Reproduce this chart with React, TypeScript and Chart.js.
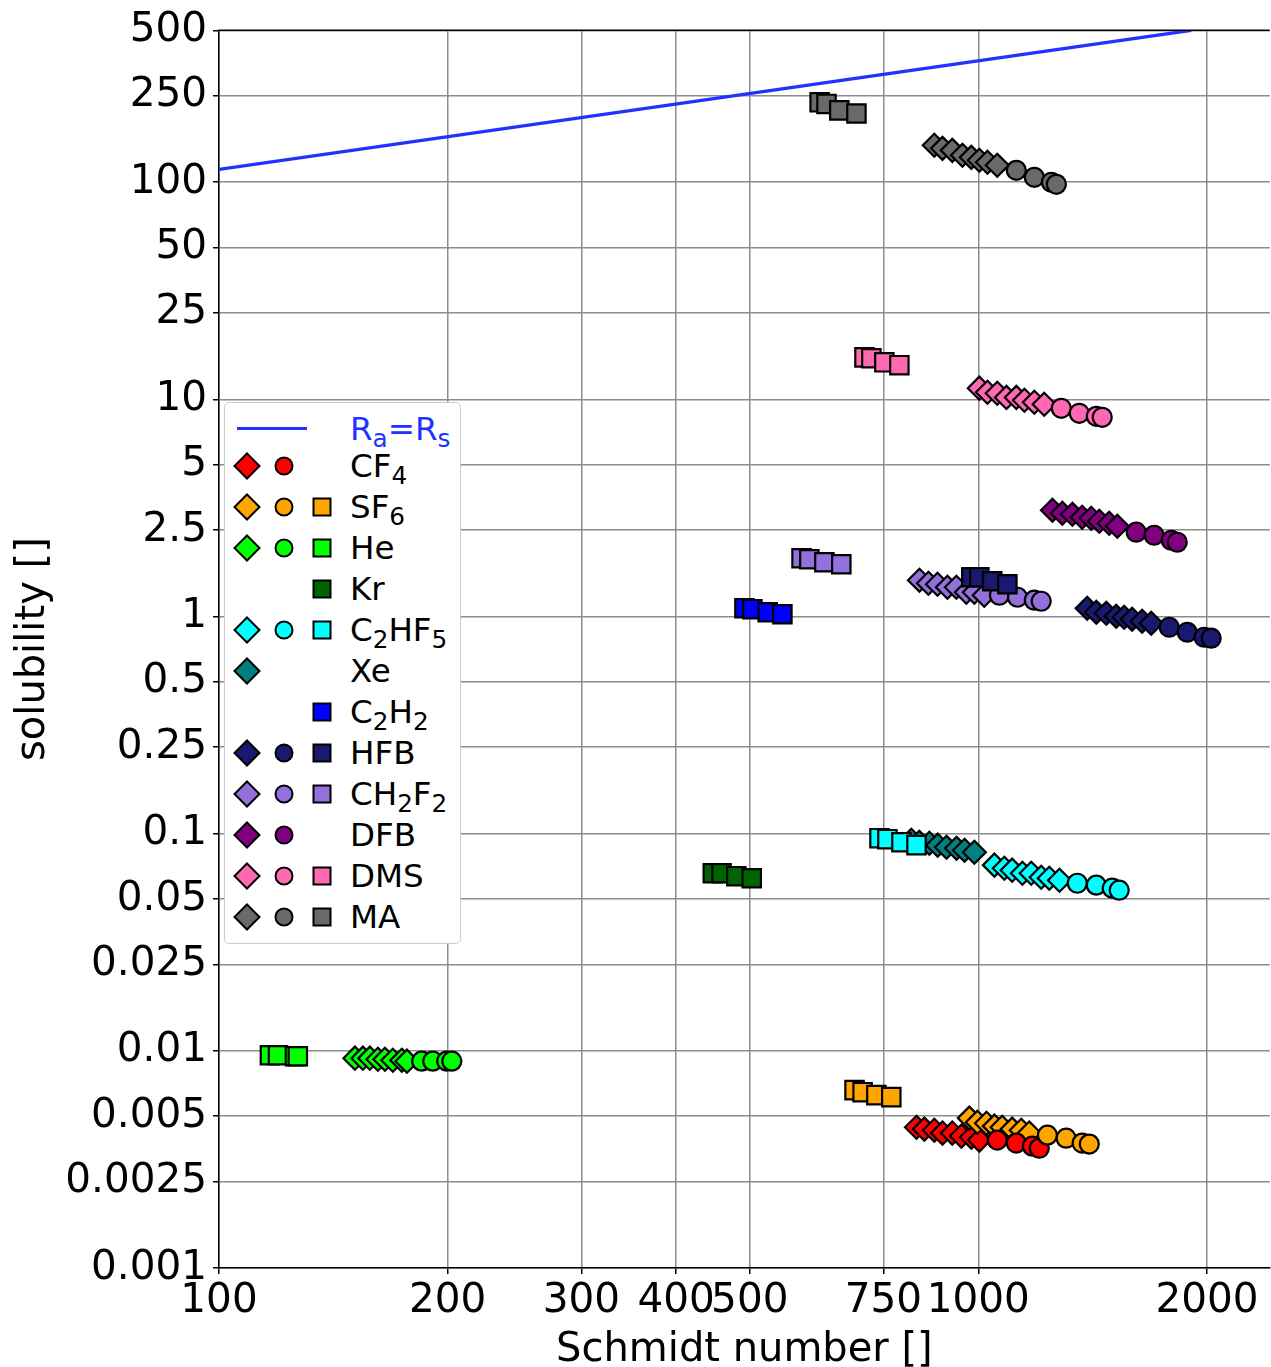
import React, { useEffect, useRef } from 'react';
import { Chart, registerables } from 'chart.js';

Chart.register(...registerables);
Chart.defaults.font.family = "'DejaVu Sans', sans-serif";

type Pt = [number, number];

// ---- axis ticks ----
const X_TICKS = [100, 200, 300, 400, 500, 750, 1000, 2000];
const Y_TICKS = [0.001, 0.0025, 0.005, 0.01, 0.025, 0.05, 0.1, 0.25, 0.5, 1, 2.5, 5, 10, 25, 50, 100, 250, 500];

// ---- Ra = Rs line ----
const RA_RS_LINE: Pt[] = [[100, 114.5], [1907, 500]];

// ---- data (Schmidt number, solubility) ----
const CF4_D: Pt[] = [[829, 0.00445], [849, 0.00436], [875, 0.00431], [897, 0.00418], [924, 0.00418], [950, 0.00405], [979, 0.0040], [1003, 0.00388]];
const CF4_C: Pt[] = [[1059, 0.00388], [1122, 0.00376], [1178, 0.00364], [1203, 0.00356]];

const SF6_D: Pt[] = [[973, 0.0049], [997, 0.00469], [1025, 0.00464], [1050, 0.0045], [1075, 0.00445], [1108, 0.00436], [1139, 0.00431], [1167, 0.00418]];
const SF6_C: Pt[] = [[1233, 0.00409], [1305, 0.00396], [1370, 0.00376], [1400, 0.00372]];
const SF6_S: Pt[] = [[687, 0.00659], [704, 0.00645], [734, 0.00625], [768, 0.00612]];

const HE_D: Pt[] = [[151, 0.00925], [154.7, 0.00925], [158, 0.00925], [161.9, 0.00915], [165.4, 0.00915], [169.4, 0.00905], [174.1, 0.00905], [176.8, 0.00896]];
const HE_C: Pt[] = [[184.9, 0.00896], [191.2, 0.00896], [199.5, 0.00896], [202.6, 0.00896]];
const HE_S: Pt[] = [[116.7, 0.00954], [119.6, 0.00954], [125.9, 0.00944], [127, 0.00944]];

const KR_S: Pt[] = [[447, 0.0657], [459, 0.0657], [480, 0.0637], [503, 0.0623]];

const C2HF5_D: Pt[] = [[1050, 0.0716], [1082, 0.0693], [1108, 0.0679], [1143, 0.0657], [1174, 0.0657], [1210, 0.063], [1240, 0.0623], [1279, 0.061]];
const C2HF5_C: Pt[] = [[1350, 0.0591], [1430, 0.0579], [1501, 0.0561], [1533, 0.0549]];
const C2HF5_S: Pt[] = [[741, 0.0953], [759, 0.0943], [792, 0.0913], [829, 0.0885]];

const XE_D: Pt[] = [[816, 0.0933], [836, 0.0913], [862, 0.0903], [884, 0.0885], [908, 0.0866], [936, 0.0857], [959, 0.0839], [988, 0.0821]];

const C2H2_S: Pt[] = [[492, 1.091], [504, 1.08], [528, 1.046], [552, 1.024]];

const HFB_D: Pt[] = [[1391, 1.091], [1430, 1.046], [1474, 1.035], [1519, 1.002], [1556, 0.992], [1594, 0.971], [1643, 0.951], [1689, 0.931]];
const HFB_C: Pt[] = [[1784, 0.892], [1884, 0.846], [1983, 0.802], [2026, 0.794]];
const HFB_S: Pt[] = [[979, 1.515], [1003, 1.515], [1043, 1.453], [1092, 1.407]];

const CH2F2_D: Pt[] = [[836.5, 1.468], [859.5, 1.422], [883.5, 1.407], [910.5, 1.363], [935.6, 1.363], [964.3, 1.293], [988, 1.293], [1018, 1.252]];
const CH2F2_C: Pt[] = [[1066, 1.252], [1126, 1.226], [1185, 1.188], [1210, 1.175]];
const CH2F2_S: Pt[] = [[585, 1.854], [599, 1.834], [627, 1.777], [660, 1.739]];

const DFB_D: Pt[] = [[1252, 3.083], [1290, 2.987], [1330, 2.955], [1370, 2.862], [1408, 2.832], [1443, 2.744], [1487, 2.687], [1524, 2.603]];
const DFB_C: Pt[] = [[1614, 2.443], [1704, 2.365], [1795, 2.244], [1828, 2.196]];

const DMS_D: Pt[] = [[1003, 11.25], [1028, 10.77], [1059, 10.66], [1089, 10.2], [1122, 10.2], [1150, 9.9], [1185, 9.69], [1221, 9.48]];
const DMS_C: Pt[] = [[1286, 9.09], [1358, 8.62], [1430, 8.35], [1456, 8.26]];
const DMS_S: Pt[] = [[708, 15.6], [723, 15.45], [752, 14.8], [787, 14.35]];

const MA_D: Pt[] = [[875, 147.7], [897, 143], [924, 140], [953, 133], [979, 130], [1003, 126], [1028, 123.4], [1059, 119.5]];
const MA_C: Pt[] = [[1122, 113.3], [1185, 105.2], [1248, 99.8], [1267, 97.7]];
const MA_S: Pt[] = [[618, 233], [631, 229], [656, 214], [691, 207]];

interface Gas { label: string; color: string; diamonds: Pt[] | null; circles: Pt[] | null; squares: Pt[] | null; }

const GASES: Gas[] = [
  { label: 'CF_4', color: '#ff0000', diamonds: CF4_D, circles: CF4_C, squares: null },
  { label: 'SF_6', color: '#ffa500', diamonds: SF6_D, circles: SF6_C, squares: SF6_S },
  { label: 'He', color: '#00ff00', diamonds: HE_D, circles: HE_C, squares: HE_S },
  { label: 'Kr', color: '#006400', diamonds: null, circles: null, squares: KR_S },
  { label: 'C_2HF_5', color: '#00ffff', diamonds: C2HF5_D, circles: C2HF5_C, squares: C2HF5_S },
  { label: 'Xe', color: '#008080', diamonds: XE_D, circles: null, squares: null },
  { label: 'C_2H_2', color: '#0000ff', diamonds: null, circles: null, squares: C2H2_S },
  { label: 'HFB', color: '#191970', diamonds: HFB_D, circles: HFB_C, squares: HFB_S },
  { label: 'CH_2F_2', color: '#9370db', diamonds: CH2F2_D, circles: CH2F2_C, squares: CH2F2_S },
  { label: 'DFB', color: '#800080', diamonds: DFB_D, circles: DFB_C, squares: null },
  { label: 'DMS', color: '#ff69b4', diamonds: DMS_D, circles: DMS_C, squares: DMS_S },
  { label: 'MA', color: '#696969', diamonds: MA_D, circles: MA_C, squares: MA_S },
];

const LINE_COLOR = '#1f33ff';
const W = 1271;
const H = 1367;
const TARGET_RIGHT = 1270;

const topSpine = {
  id: 'topSpine',
  afterDraw(chart: any) {
    const { ctx, chartArea } = chart;
    ctx.save();
    ctx.strokeStyle = '#000';
    ctx.lineWidth = 1.5;
    ctx.beginPath();
    ctx.moveTo(chartArea.left - 0.75, chartArea.top);
    ctx.lineTo(chartArea.right, chartArea.top);
    ctx.stroke();
    ctx.restore();
  },
};

function Sub({ children }: { children: any }) {
  return <span style={{ fontSize: '0.76em', position: 'relative', top: '0.3em' }}>{children}</span>;
}

function renderLabel(label: string) {
  const parts = label.split(/_(\w)/);
  return parts.map((p, i) => (i % 2 === 1 ? <Sub key={i}>{p}</Sub> : <span key={i}>{p}</span>));
}

function Marker({ kind, color, cx, cy }: { kind: string; color: string; cx: number; cy: number }) {
  const s = 30;
  const c = s / 2;
  let shape: any = null;
  if (kind === 'd') shape = <polygon points={`${c},${c - 12.5} ${c + 12.5},${c} ${c},${c + 12.5} ${c - 12.5},${c}`} fill={color} stroke="#000" strokeWidth={2} />;
  if (kind === 'c') shape = <circle cx={c} cy={c} r={8.5} fill={color} stroke="#000" strokeWidth={2} />;
  if (kind === 's') shape = <rect x={c - 8.5} y={c - 8.5} width={17} height={17} fill={color} stroke="#000" strokeWidth={2} />;
  return (
    <svg width={s} height={s} style={{ position: 'absolute', left: cx - c, top: cy - c, overflow: 'visible' }}>
      {shape}
    </svg>
  );
}

function Legend() {
  const L = 224, T = 402, R = 461, B = 944;
  const rowY0 = 466 - T;
  const step = 41;
  const dx = 247 - L - 1, cxC = 284 - L - 1, sx = 322 - L - 1, tx = 350 - L - 1;
  return (
    <div style={{ position: 'absolute', left: L, top: T, width: R - L, height: B - T, boxSizing: 'border-box', border: '1.5px solid #cccccc', borderRadius: 5, background: '#fff', fontFamily: "'DejaVu Sans', sans-serif", fontSize: 32.5, lineHeight: '32px', color: '#000' }}>
      <div style={{ position: 'absolute', left: 237 - L - 1, top: 428 - T - 2.5, width: 70, height: 3, background: LINE_COLOR }} />
      <div style={{ position: 'absolute', left: tx, top: 428 - T - 16, color: LINE_COLOR, whiteSpace: 'nowrap' }}>
        R<Sub>a</Sub>=R<Sub>s</Sub>
      </div>
      {GASES.map((g, i) => {
        const cy = rowY0 + i * step - 1;
        return (
          <React.Fragment key={g.label}>
            {g.diamonds && <Marker kind="d" color={g.color} cx={dx} cy={cy} />}
            {g.circles && <Marker kind="c" color={g.color} cx={cxC} cy={cy} />}
            {g.squares && <Marker kind="s" color={g.color} cx={sx} cy={cy} />}
            <div style={{ position: 'absolute', left: tx, top: cy - 16, whiteSpace: 'nowrap' }}>{renderLabel(g.label)}</div>
          </React.Fragment>
        );
      })}
    </div>
  );
}

function buildConfig(): any {
  const toXY = (arr: Pt[]) => arr.map(([x, y]) => ({ x, y }));
  const datasets: any[] = [];
  datasets.push({
    type: 'line',
    label: 'Ra=Rs',
    data: toXY(RA_RS_LINE),
    borderColor: LINE_COLOR,
    borderWidth: 3.2,
    pointRadius: 0,
    showLine: true,
    fill: false,
  });
  const groups: { key: 'diamonds' | 'circles' | 'squares'; style: string; r: number }[] = [
    { key: 'diamonds', style: 'rectRot', r: 11.5 },
    { key: 'circles', style: 'circle', r: 9.5 },
    { key: 'squares', style: 'rect', r: 13 },
  ];
  groups.forEach((gr) => {
    GASES.forEach((g) => {
      const arr = g[gr.key];
      if (!arr) return;
      datasets.push({
        type: 'scatter',
        label: g.label + ' ' + gr.key,
        data: toXY(arr),
        pointStyle: gr.style,
        pointRadius: gr.r,
        pointHoverRadius: gr.r,
        backgroundColor: g.color,
        borderColor: '#000',
        borderWidth: 2.2,
        showLine: false,
      });
    });
  });
  datasets.forEach((d, i) => { d.order = -i; });

  const tickFont = { size: 40.5 };
  return {
    type: 'scatter',
    data: { datasets },
    options: {
      responsive: false,
      maintainAspectRatio: false,
      animation: false,
      devicePixelRatio: 1,
      events: [],
      layout: { padding: { top: 29, right: 1, left: 0, bottom: 0 } },
      plugins: { legend: { display: false }, tooltip: { enabled: false } },
      scales: {
        x: {
          type: 'logarithmic',
          min: 100,
          max: 2420,
          afterBuildTicks: (s: any) => { s.ticks = X_TICKS.map((v) => ({ value: v })); },
          afterFit: (s: any) => { s.height = 99; s.paddingRight = 0; s.paddingLeft = 0; },
          ticks: { autoSkip: false, maxRotation: 0, minRotation: 0, color: '#000', font: tickFont, padding: 3, callback: (v: any) => String(v) },
          grid: { color: '#8c8c8c', lineWidth: 1.5, tickColor: '#000', tickLength: 6, tickWidth: 1.5 },
          border: { color: '#000', width: 1.5 },
          title: { display: true, text: 'Schmidt number []', color: '#000', font: { size: 40, lineHeight: 0.8 }, padding: { top: 0, bottom: 0 } },
        },
        y: {
          type: 'logarithmic',
          min: 0.001,
          max: 500,
          afterBuildTicks: (s: any) => { s.ticks = Y_TICKS.map((v) => ({ value: v })); },
          afterFit: (s: any) => { s.width = 219; },
          ticks: { autoSkip: false, color: '#000', font: tickFont, padding: 6, callback: (v: any) => String(v) },
          grid: { color: '#8c8c8c', lineWidth: 1.5, tickColor: '#000', tickLength: 6, tickWidth: 1.5 },
          border: { color: '#000', width: 1.5 },
          title: { display: true, text: 'solubility []', color: '#000', font: { size: 40, lineHeight: 1 }, padding: { top: 14, bottom: 0 } },
        },
      },
    },
    plugins: [topSpine],
  };
}

export default function App() {
  const ref = useRef<HTMLCanvasElement | null>(null);

  useEffect(() => {
    const canvas = ref.current;
    if (!canvas) return;
    const build = (w: number) => {
      canvas.width = w;
      canvas.height = H;
      canvas.style.width = w + 'px';
      canvas.style.height = H + 'px';
      return new Chart(canvas, buildConfig());
    };
    let chart = build(W);
    const diff = Math.round(TARGET_RIGHT - chart.chartArea.right);
    if (diff !== 0) {
      chart.destroy();
      chart = build(W + diff);
    }
    return () => chart.destroy();
  }, []);

  return (
    <div style={{ position: 'absolute', left: 0, top: 0, width: W, height: H, background: '#fff', overflow: 'hidden' }}>
      <canvas ref={ref} width={W} height={H} style={{ display: 'block', width: W, height: H }} />
      <Legend />
    </div>
  );
}
